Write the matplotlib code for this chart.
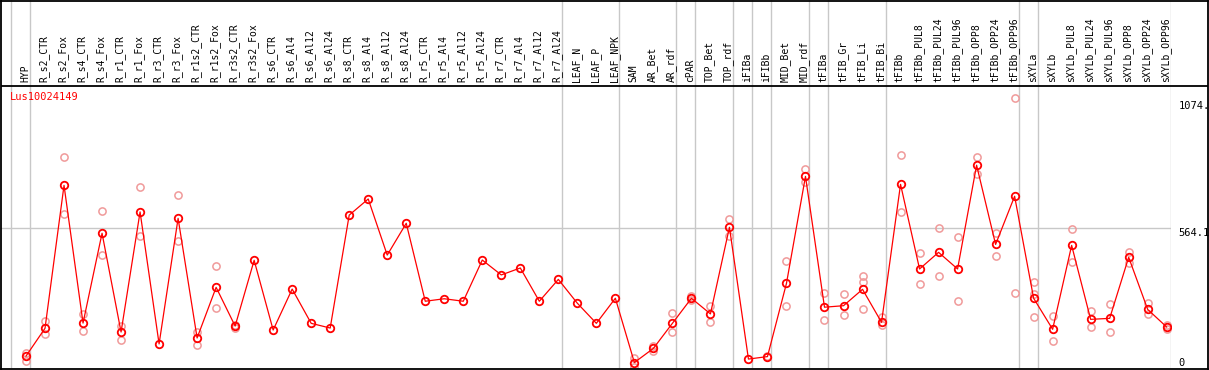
import numpy as np
import matplotlib
matplotlib.use('Agg')
import matplotlib.pyplot as plt

nan = np.nan

# 样本名称
samples = ['HYP', 'R_s2_CTR', 'R_s2_Fox', 'R_s4_CTR', 'R_s4_Fox', 'R_r1_CTR', 'R_r1_Fox',
           'R_r3_CTR', 'R_r3_Fox', 'R_r1s2_CTR', 'R_r1s2_Fox', 'R_r3s2_CTR', 'R_r3s2_Fox',
           'R_s6_CTR', 'R_s6_Al4', 'R_s6_Al12', 'R_s6_Al24', 'R_s8_CTR', 'R_s8_Al4',
           'R_s8_Al12', 'R_s8_Al24', 'R_r5_CTR', 'R_r5_Al4', 'R_r5_Al12', 'R_r5_Al24',
           'R_r7_CTR', 'R_r7_Al4', 'R_r7_Al12', 'R_r7_Al24', 'LEAF_N', 'LEAF_P', 'LEAF_NPK',
           'SAM', 'AR_Bet', 'AR_rdf', 'cPAR', 'TOP_Bet', 'TOP_rdf', 'iFIBa', 'iFIBb',
           'MID_Bet', 'MID_rdf', 'tFIBa', 'tFIB_Gr', 'tFIB_Li', 'tFIB_Bi', 'tFIBb',
           'tFIBb_PUL8', 'tFIBb_PUL24', 'tFIBb_PUL96', 'tFIBb_OPP8', 'tFIBb_OPP24',
           'tFIBb_OPP96', 'sXYLa', 'sXYLb', 'sXYLb_PUL8', 'sXYLb_PUL24', 'sXYLb_PUL96',
           'sXYLb_OPP8', 'sXYLb_OPP24', 'sXYLb_OPP96']

# 平均表达量
mean_vals = [48, 160, 736, 181, 543, 145, 629, 97, 603, 121, 325, 169, 434, 153, 318, 180,
             161, 616, 681, 455, 583, 269, 279, 269, 435, 375, 403, 269, 357, 261, 180, 281,
             22, 79, 180, 281, 218, 567, 36, 46, 341, 772, 245, 251, 317, 184, 740, 399,
             466, 399, 817, 498, 692, 281, 156, 494, 196, 200, 446, 236, 165]

# 重复样本
rep1 = [59, 189, 850, 216, 633, 171, 728, nan, 696, 146, 411, 175, nan, nan, nan, nan,
        nan, nan, nan, nan, nan, nan, nan, nan, nan, nan, nan, nan, nan, nan, nan, nan,
        39, 90, 220, 290, 250, 600, nan, 50, 430, 802, 301, 297, 371, 204, 858, 462,
        563, 527, 850, 545, 1087, 345, 210, 559, 230, 257, 467, 263, 172]
rep2 = [29, 136, 619, 149, 455, 113, 531, nan, 511, 94, 240, 163, nan, nan, nan, nan,
        nan, nan, nan, nan, nan, nan, nan, nan, nan, nan, nan, nan, nan, nan, nan, nan,
        5, 70, 144, 275, 184, 532, nan, nan, 249, 750, 193, 212, 345, 173, 627, 337,
        371, 270, 782, 450, 302, 300, 108, 426, 164, 144, 424, 216, 158]
rep3 = [nan] * 44 + [236] + [nan] * 8 + [204] + [nan] * 7

# 分组边界（每组最后一个样本的序号）
group_ends = [-1, 0, 28, 31, 34, 35, 37, 38, 39, 41, 42, 45, 52, 53, 60]

gene = 'Lus10024149'
y_top = 1128.2
y_ticks = [0, 564.1, 1074]
y_tick_labels = ['0', '564.1', '1074.']

W, H = 1209, 370


def box(x0, y0, x1, y1):
    return [x0 / W, 1 - y1 / H, (x1 - x0) / W, (y1 - y0) / H]


mono = 'DejaVu Sans Mono'
grid_c = '#c8c8c8'
x = np.arange(len(samples))
xl = (-1.315, 60.21)

fig = plt.figure(figsize=(W / 100, H / 100), dpi=100)

# 外框
frame = fig.add_axes(box(1, 0.5, 1207.5, 368.5))
frame.set_xticks([])
frame.set_yticks([])
frame.set_xlim(0, 1)
frame.set_ylim(0, 1)
frame.patch.set_alpha(0)
for s in frame.spines.values():
    s.set_color('black')
    s.set_linewidth(1.3)
frame.axhline(1 - 85 / 368, color='black', lw=1.3)
frame.set_zorder(5)

# 标题区（样本名）
head = fig.add_axes(box(1, 0, 1170.7, 85))
head.set_xlim(*xl)
head.set_ylim(0, 1)
head.axis('off')
for g in group_ends:
    head.axvline(g + 0.21, color=grid_c, lw=1)
for i, name in enumerate(samples):
    head.text(i - 0.05, 2.5 / 85, name, rotation=90, ha='center', va='bottom',
              fontsize=7, family=mono, color='black')

# 绘图区
ax = fig.add_axes(box(1, 85, 1170.7, 368))
ax.set_xlim(*xl)
ax.set_ylim(0, y_top * 283 / 280)
for s in ax.spines.values():
    s.set_visible(False)
ax.set_xticks([])
for g in group_ends:
    ax.axvline(g + 0.21, color=grid_c, lw=1, zorder=1)
ax.axhline(y_ticks[1], color=grid_c, lw=1, zorder=1)

for r in (rep1, rep2, rep3):
    ax.plot(x, r, linestyle='none', marker='o', markersize=5.2, markerfacecolor='none',
            markeredgecolor='#f09a9a', markeredgewidth=1.1, zorder=2)
ax.plot(x, mean_vals, color='red', lw=0.9, marker='o', markersize=5.4,
        markerfacecolor='none', markeredgecolor='red', markeredgewidth=1.3, zorder=3)

ax.yaxis.tick_right()
ax.set_yticks(y_ticks)
ax.set_yticklabels(y_tick_labels, family=mono, fontsize=7.5)
ax.tick_params(axis='y', length=0, pad=5.5)
lbls = ax.get_yticklabels()
lbls[0].set_va('bottom')
lbls[1].set_va('top')
lbls[2].set_va('top')

ax.text(9 / 1169.7, 1 - 12 / 283, gene, transform=ax.transAxes, color='red',
        fontsize=7.5, family=mono, va='center', ha='left')

fig.savefig('out.png', dpi=100)
